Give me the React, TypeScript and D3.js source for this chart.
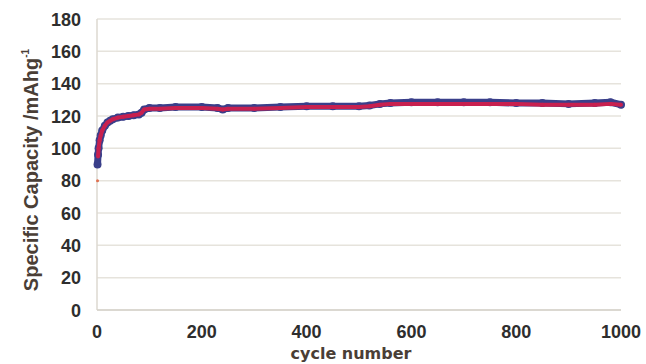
import React, { useEffect, useRef } from 'react';
import * as d3 from 'd3';

// cycle numbers sampled along the curve
const cycles = [1, 2, 3, 5, 7, 10, 15, 20, 25, 30, 40, 50, 60, 70, 80, 85, 90, 100, 120, 150, 200, 230, 240, 250, 300, 350, 400, 450, 500, 520, 540, 560, 600, 650, 700, 750, 800, 850, 900, 950, 980, 1000];
const blueCap = [90, 96, 100, 105, 108, 111, 114, 116, 117, 118, 119, 119.5, 120, 120.5, 121, 122, 124, 125, 125, 125.5, 125.5, 125, 124, 125, 125, 125.5, 126, 126, 126, 126.5, 127.5, 128, 128.5, 128.5, 128.5, 128.5, 128, 128, 127.5, 128, 128.5, 127];
const redCap = [80, 95, 100, 105, 108, 111, 114, 116, 117, 118, 119, 119.5, 120, 120.5, 121, 122, 124, 124.5, 124.5, 125, 125, 124.5, 124, 124.5, 124.5, 125, 125.5, 125.5, 125.5, 126, 127, 127.5, 127.5, 127.5, 127.5, 127.5, 127.5, 127, 127, 127, 127.5, 127];
const yTicks = [0, 20, 40, 60, 80, 100, 120, 140, 160, 180];
const xTicks = [0, 200, 400, 600, 800, 1000];

export default function App() {
    const ref = useRef<SVGSVGElement>(null);

    useEffect(() => {
        const svg = d3.select(ref.current);
        svg.selectAll('*').remove();

        const x = d3.scaleLinear().domain([0, 1000]).range([97, 621]);
        const y = d3.scaleLinear().domain([0, 180]).range([310, 19]);

        svg.append('rect').attr('width', 646).attr('height', 364).attr('fill', '#ffffff');

        // gridlines
        svg.append('g').selectAll('line').data(yTicks).enter().append('line')
            .attr('x1', x(0)).attr('x2', x(1000))
            .attr('y1', d => y(d)).attr('y2', d => y(d))
            .attr('stroke', '#e6e3dc').attr('stroke-width', 1.5);

        // axes
        svg.append('line').attr('x1', x(0)).attr('x2', x(0)).attr('y1', y(0)).attr('y2', y(180))
            .attr('stroke', '#dcd8d0').attr('stroke-width', 1.5);
        svg.append('line').attr('x1', x(0)).attr('x2', x(1000)).attr('y1', y(0)).attr('y2', y(0))
            .attr('stroke', '#d6d2ca').attr('stroke-width', 1.5);

        const font = 'Liberation Sans, Arial, sans-serif';

        svg.append('g').selectAll('text').data(yTicks).enter().append('text')
            .attr('x', 81).attr('y', d => y(d) + 6.5)
            .attr('text-anchor', 'end')
            .attr('font-family', font).attr('font-weight', 'bold').attr('font-size', 18)
            .attr('fill', '#2e2e2e')
            .text(d => d);

        svg.append('g').selectAll('text').data(xTicks).enter().append('text')
            .attr('x', d => x(d)).attr('y', 338)
            .attr('text-anchor', 'middle')
            .attr('font-family', font).attr('font-weight', 'bold').attr('font-size', 18)
            .attr('fill', '#2e2e2e')
            .text(d => d);

        svg.append('text')
            .attr('x', 351).attr('y', 359)
            .attr('text-anchor', 'middle')
            .attr('font-family', 'DejaVu Sans, sans-serif').attr('font-weight', 'bold').attr('font-size', 16)
            .attr('fill', '#4a3e36')
            .text('cycle number');

        const yl = svg.append('text')
            .attr('transform', 'translate(38,170) rotate(-90)')
            .attr('text-anchor', 'middle')
            .attr('font-family', font).attr('font-weight', 'bold').attr('font-size', 20)
            .attr('fill', '#4a3e36');
        yl.append('tspan').text('Specific Capacity /mAhg');
        yl.append('tspan').attr('font-size', 10).attr('dy', -9).text('-1');

        const blue = cycles.map((c, i) => [c, blueCap[i]] as [number, number]);
        const red = cycles.map((c, i) => [c, redCap[i]] as [number, number]);
        const line = d3.line<[number, number]>().x(d => x(d[0])).y(d => y(d[1]));

        svg.append('path').datum(blue).attr('d', line)
            .attr('fill', 'none').attr('stroke', '#3a3f8a').attr('stroke-width', 7)
            .attr('stroke-linejoin', 'round').attr('stroke-linecap', 'round');
        svg.append('g').selectAll('circle').data(blue).enter().append('circle')
            .attr('cx', d => x(d[0])).attr('cy', d => y(d[1])).attr('r', 4)
            .attr('fill', '#3a3f8a');

        svg.append('path').datum(red.slice(1)).attr('d', line)
            .attr('fill', 'none').attr('stroke', '#c8204f').attr('stroke-width', 4)
            .attr('stroke-linejoin', 'round');
        svg.append('g').selectAll('circle').data(red).enter().append('circle')
            .attr('cx', d => x(d[0])).attr('cy', d => y(d[1])).attr('r', d => d[0] === 1 ? 1.5 : 2)
            .attr('fill', d => d[0] === 1 ? '#e07050' : '#c8204f');
    }, []);

    return <svg ref={ref} width={646} height={364} style={{ position: 'absolute', left: 0, top: 0 }} />;
}
